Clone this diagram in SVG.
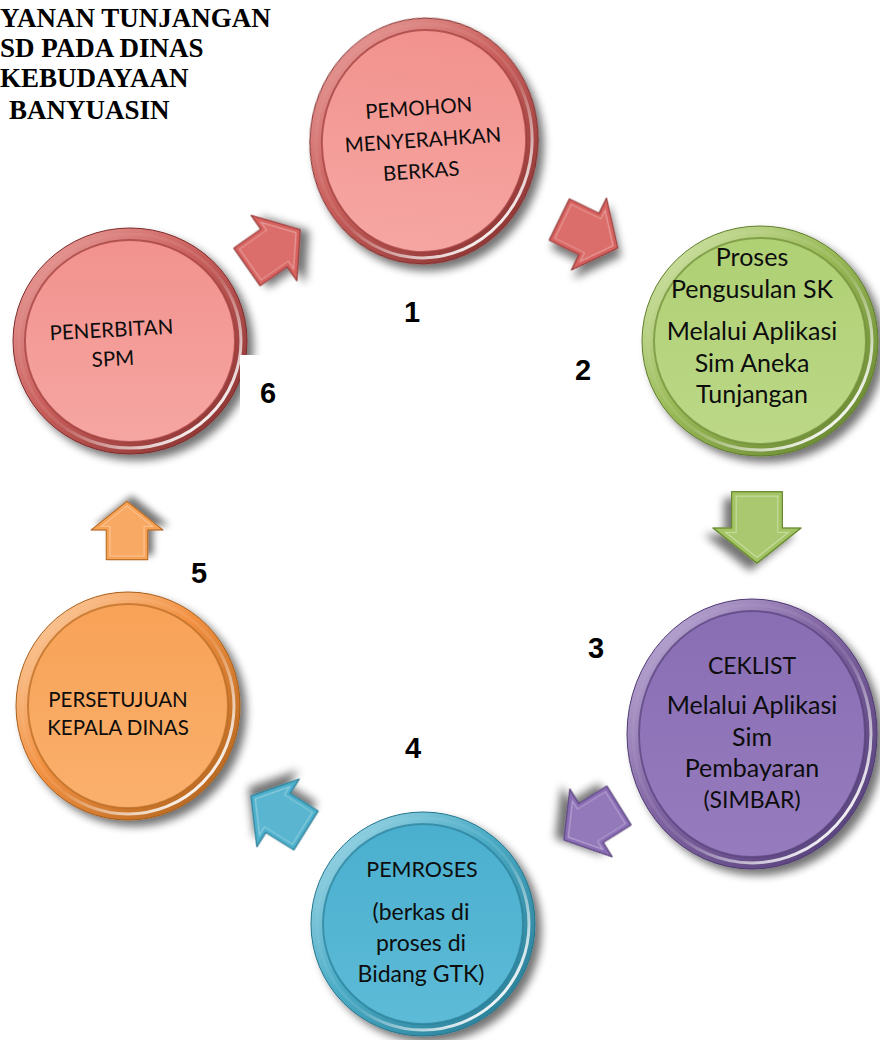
<svg xmlns="http://www.w3.org/2000/svg" xmlns:xlink="http://www.w3.org/1999/xlink" width="880" height="1040" viewBox="0 0 880 1040">
  <defs>
    <style>
      .title { font-family: "Liberation Serif", "Times New Roman", serif; font-weight: bold; font-size: 27px; fill: #000; }
      .lbl { font-family: Lato, "Open Sans", sans-serif; fill: #0d0d0d; text-anchor: middle; }
      .caps { font-size: 20.5px; }
      .big { font-size: 25px; }
      .bigcaps { font-size: 23px; }
      .mid { font-size: 23px; }
      .midcaps { font-size: 21.5px; }
      .num { font-family: "Liberation Sans", Arial, sans-serif; font-weight: bold; font-size: 29px; fill: #000; text-anchor: middle; }
      .hl { fill: none; stroke: url(#hiGlow); stroke-width: 3; }
      .arrow use { filter: url(#shadow); }
    </style>

    <!-- soft drop shadow used by buttons and arrows -->
    <filter id="shadow" x="-30%" y="-30%" width="160%" height="160%">
      <feGaussianBlur in="SourceAlpha" stdDeviation="4"/>
      <feOffset dx="6" dy="6" result="off"/>
      <feComponentTransfer><feFuncA type="linear" slope="0.55"/></feComponentTransfer>
      <feMerge><feMergeNode/><feMergeNode in="SourceGraphic"/></feMerge>
    </filter>

    <!-- white rim highlight, strongest at lower right -->
    <linearGradient id="hiGlow" x1="0" y1="0" x2="1" y2="1">
      <stop offset="0" stop-color="#fff" stop-opacity="0"/>
      <stop offset="0.55" stop-color="#fff" stop-opacity="0.1"/>
      <stop offset="0.85" stop-color="#fff" stop-opacity="0.9"/>
      <stop offset="1" stop-color="#fff" stop-opacity="0.6"/>
    </linearGradient>

    <!-- ring and face gradients per colour -->
    <linearGradient id="ringRed" x1="0" y1="0" x2="1" y2="1">
      <stop offset="0" stop-color="#EFA9A6"/><stop offset="0.45" stop-color="#C95F5C"/><stop offset="1" stop-color="#7E2B2A"/>
    </linearGradient>
    <linearGradient id="faceRed" x1="0" y1="0" x2="0" y2="1">
      <stop offset="0" stop-color="#F2928E"/><stop offset="1" stop-color="#F6A6A2"/>
    </linearGradient>

    <linearGradient id="ringGreen" x1="0" y1="0" x2="1" y2="1">
      <stop offset="0" stop-color="#DAEBB6"/><stop offset="0.45" stop-color="#9BBB59"/><stop offset="1" stop-color="#5F7D2A"/>
    </linearGradient>
    <linearGradient id="faceGreen" x1="0" y1="0" x2="0" y2="1">
      <stop offset="0" stop-color="#AFD073"/><stop offset="1" stop-color="#BCD888"/>
    </linearGradient>

    <linearGradient id="ringPurple" x1="0" y1="0" x2="1" y2="1">
      <stop offset="0" stop-color="#C9BAE0"/><stop offset="0.45" stop-color="#8064A2"/><stop offset="1" stop-color="#4E3A72"/>
    </linearGradient>
    <linearGradient id="facePurple" x1="0" y1="0" x2="0" y2="1">
      <stop offset="0" stop-color="#8A6EB4"/><stop offset="1" stop-color="#967BBE"/>
    </linearGradient>

    <linearGradient id="ringTeal" x1="0" y1="0" x2="1" y2="1">
      <stop offset="0" stop-color="#ADDEEC"/><stop offset="0.45" stop-color="#4BACC6"/><stop offset="1" stop-color="#23758D"/>
    </linearGradient>
    <linearGradient id="faceTeal" x1="0" y1="0" x2="0" y2="1">
      <stop offset="0" stop-color="#4AAFCE"/><stop offset="1" stop-color="#5DBBD7"/>
    </linearGradient>

    <linearGradient id="ringOrange" x1="0" y1="0" x2="1" y2="1">
      <stop offset="0" stop-color="#FDD7B2"/><stop offset="0.45" stop-color="#F29040"/><stop offset="1" stop-color="#A85E1A"/>
    </linearGradient>
    <linearGradient id="faceOrange" x1="0" y1="0" x2="0" y2="1">
      <stop offset="0" stop-color="#F8A257"/><stop offset="1" stop-color="#FAB06C"/>
    </linearGradient>

    <!-- block arrow pointing along +x, origin on the barb line -->
    <g id="blockArrow">
      <polygon points="-33,-23 0,-23 0,-40 32,0 0,40 0,23 -33,23" stroke="currentColor" stroke-width="1.2" stroke-linejoin="round"/>
      <polygon points="-29,-19 4,-19 4,-28.6 26.9,0 4,28.6 4,19 -29,19" fill="#fff" fill-opacity="0.08" stroke="#fff" stroke-opacity="0.35" stroke-width="1.2"/>
    </g>
  </defs>

  <rect width="880" height="1040" fill="#fff"/>

  <!-- heading -->
  <g id="heading">
    <text class="title" x="0" y="27">YANAN TUNJANGAN</text>
    <text class="title" x="0" y="57">SD PADA DINAS</text>
    <text class="title" x="0" y="87">KEBUDAYAAN</text>
    <text class="title" x="9" y="119">BANYUASIN</text>
  </g>

  <!-- connectors -->
  <g id="connectors" class="arrow">
    <use xlink:href="#blockArrow" fill="#D8625F" color="#8E3533" transform="translate(274,248) rotate(-35)"/>
    <use xlink:href="#blockArrow" fill="#D8625F" color="#8E3533" transform="translate(589,234) rotate(26)"/>
    <use xlink:href="#blockArrow" fill="#A2C463" color="#6B8A32" transform="translate(757,528) rotate(90) scale(1.1)"/>
    <use xlink:href="#blockArrow" fill="#8A6DB5" color="#4F3A73" transform="translate(591,823) rotate(148)"/>
    <use xlink:href="#blockArrow" fill="#4DB0CC" color="#25768E" transform="translate(278,813) rotate(212)"/>
    <use xlink:href="#blockArrow" fill="#F8A256" color="#B0641F" transform="translate(127,530) rotate(-90) scale(0.9)"/>
  </g>

  <!-- step 1 -->
  <g id="node-1" transform="translate(424,141)">
    <g transform="rotate(6)">
      <ellipse rx="114" ry="123" fill="url(#ringRed)" stroke="#7E2B2A" stroke-width="1" filter="url(#shadow)"/>
      <ellipse class="hl" rx="108" ry="117"/>
      <ellipse rx="102" ry="111" fill="url(#faceRed)" stroke="#9E3C3A" stroke-opacity="0.7" stroke-width="2"/>
    </g>
    <g transform="rotate(-4)" class="lbl caps">
      <text x="-3" y="-26">PEMOHON</text>
      <text x="-1" y="6">MENYERAHKAN</text>
      <text x="-5" y="37">BERKAS</text>
    </g>
  </g>

  <!-- step 2 -->
  <g id="node-2" transform="translate(760,341)">
    <ellipse rx="118" ry="115" fill="url(#ringGreen)" stroke="#5F7D2A" stroke-width="1" filter="url(#shadow)"/>
    <ellipse class="hl" rx="112" ry="109"/>
    <ellipse rx="106" ry="103" fill="url(#faceGreen)" stroke="#6E8C35" stroke-opacity="0.7" stroke-width="2"/>
    <g class="lbl big">
      <text x="-8" y="-75">Proses</text>
      <text x="-8" y="-43">Pengusulan SK</text>
      <text x="-8" y="-1">Melalui Aplikasi</text>
      <text x="-8" y="31">Sim Aneka</text>
      <text x="-8" y="62">Tunjangan</text>
    </g>
  </g>

  <!-- step 3 -->
  <g id="node-3" transform="translate(752,734)">
    <ellipse rx="125" ry="135" fill="url(#ringPurple)" stroke="#4E3A72" stroke-width="1" filter="url(#shadow)"/>
    <ellipse class="hl" rx="119" ry="129"/>
    <ellipse rx="113" ry="123" fill="url(#facePurple)" stroke="#55407A" stroke-opacity="0.7" stroke-width="2"/>
    <g class="lbl">
      <text class="bigcaps" x="0" y="-60">CEKLIST</text>
      <text class="big" x="0" y="-20">Melalui Aplikasi</text>
      <text class="big" x="0" y="12">Sim</text>
      <text class="big" x="0" y="43">Pembayaran</text>
      <text class="bigcaps" x="0" y="74">(SIMBAR)</text>
    </g>
  </g>

  <!-- step 4 -->
  <g id="node-4" transform="translate(423,924)">
    <ellipse rx="112" ry="112" fill="url(#ringTeal)" stroke="#23758D" stroke-width="1" filter="url(#shadow)"/>
    <ellipse class="hl" rx="106" ry="106"/>
    <ellipse rx="100" ry="100" fill="url(#faceTeal)" stroke="#2A7F98" stroke-opacity="0.7" stroke-width="2"/>
    <g class="lbl">
      <text class="midcaps" x="-1" y="-47">PEMROSES</text>
      <text class="mid" x="-2" y="-4">(berkas di</text>
      <text class="mid" x="-2" y="27">proses di</text>
      <text class="mid" x="-2" y="58">Bidang GTK)</text>
    </g>
  </g>

  <!-- step 5 -->
  <g id="node-5" transform="translate(128,706)">
    <ellipse rx="112" ry="114" fill="url(#ringOrange)" stroke="#A85E1A" stroke-width="1" filter="url(#shadow)"/>
    <ellipse class="hl" rx="106" ry="108"/>
    <ellipse rx="100" ry="102" fill="url(#faceOrange)" stroke="#B86A22" stroke-opacity="0.7" stroke-width="2"/>
    <g class="lbl caps">
      <text x="-10" y="1">PERSETUJUAN</text>
      <text x="-10" y="29">KEPALA DINAS</text>
    </g>
  </g>

  <!-- step 6 -->
  <g id="node-6" transform="translate(130,341)">
    <ellipse rx="117" ry="113" fill="url(#ringRed)" stroke="#7E2B2A" stroke-width="1" filter="url(#shadow)"/>
    <ellipse class="hl" rx="111" ry="107"/>
    <ellipse rx="105" ry="101" fill="url(#faceRed)" stroke="#9E3C3A" stroke-opacity="0.7" stroke-width="2"/>
    <g transform="rotate(-3)" class="lbl caps">
      <text x="-18" y="-5">PENERBITAN</text>
      <text x="-18" y="24">SPM</text>
    </g>
  </g>

  <!-- step numbers -->
  <g id="numbers">
    <rect x="240" y="355" width="52" height="66" fill="#fff"/>
    <text class="num" x="412" y="322">1</text>
    <text class="num" x="583" y="380">2</text>
    <text class="num" x="596" y="658">3</text>
    <text class="num" x="413" y="758">4</text>
    <text class="num" x="199" y="583">5</text>
    <text class="num" x="268" y="403">6</text>
  </g>
</svg>
